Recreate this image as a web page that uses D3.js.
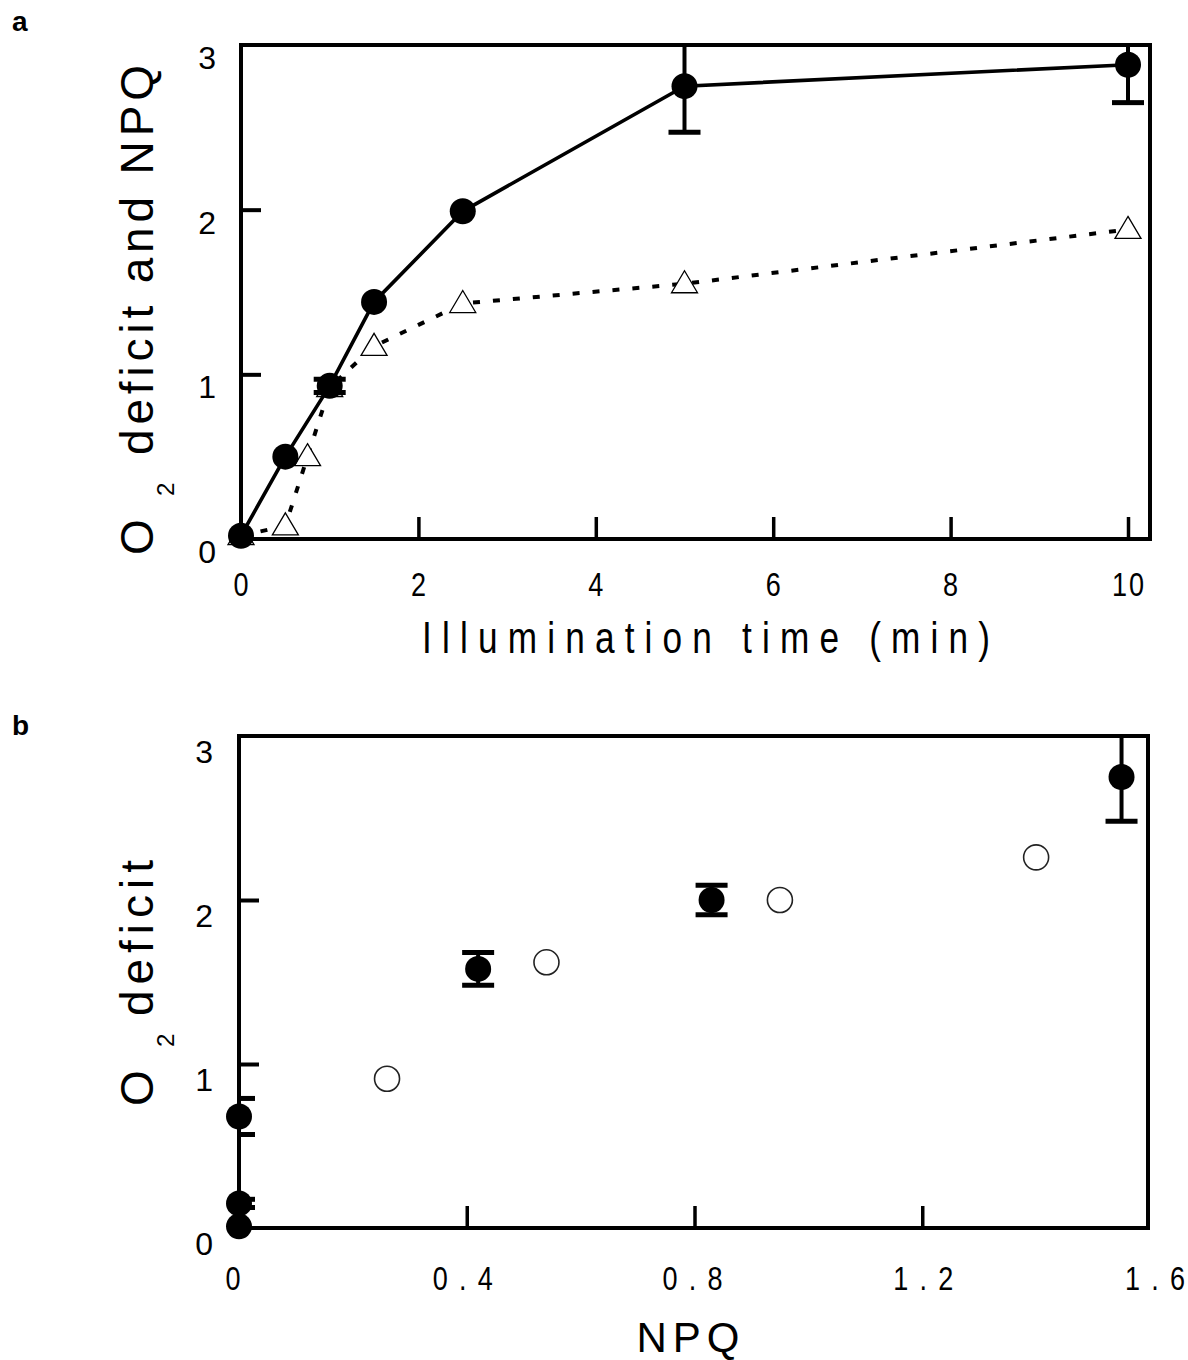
<!DOCTYPE html>
<html><head><meta charset="utf-8">
<script src="https://cdn.jsdelivr.net/npm/d3@7"></script>
<style>body{margin:0;background:#fff}</style>
</head><body>
<svg id="c" width="1188" height="1360" xmlns="http://www.w3.org/2000/svg"></svg>
<script>
// ---- Panel a data ----
const timeMin = [0, 0.5, 1, 1.5, 2.5, 5, 10];
const o2Deficit = [0.02, 0.50, 0.93, 1.44, 1.99, 2.75, 2.88];
const o2DeficitErr = [0, 0, 0.04, 0, 0, 0.28, 0.23];
const npqTime = [0, 0.5, 0.75, 1, 1.5, 2.5, 5, 10];
const npqValues = [0.02, 0.08, 0.50, 0.92, 1.17, 1.43, 1.55, 1.88];
const aXTicks = [0, 2, 4, 6, 8, 10];
const aYTicks = [0, 1, 2, 3];
// ---- Panel b data ----
const bFilledNPQ = [0, 0, 0, 0.42, 0.83, 1.55];
const bFilledO2 = [0.01, 0.15, 0.68, 1.58, 2.0, 2.75];
const bFilledErr = [0, 0.025, 0.11, 0.10, 0.09, 0.27];
const bOpenNPQ = [0.26, 0.54, 0.95, 1.40];
const bOpenO2 = [0.91, 1.62, 2.0, 2.26];
const bXTicks = [0, 0.4, 0.8, 1.2, 1.6];
const bXTickLabels = ["0", "0.4", "0.8", "1.2", "1.6"];
const bYTicks = [0, 1, 2, 3];

const svg = d3.select("#c");
const FONT = "'Liberation Sans', Arial, Helvetica, sans-serif";
const defs = svg.append("defs");

function condensed(g, txt, x, y, size, anchor, sx, len) {
  const t = g.append("text")
    .attr("transform", `translate(${x},${y}) scale(${sx},1)`)
    .attr("font-family", FONT).attr("font-size", size)
    .attr("text-anchor", anchor).text(txt);
  if (len) t.attr("textLength", len / sx).attr("lengthAdjust", "spacing");
  return t;
}

function yTitle(g, cx, parts) {
  parts.forEach(p => {
    const t = g.append("text")
      .attr("transform", `translate(${cx + (p.dx || 0)},${p.y0}) rotate(-90)`)
      .attr("font-family", FONT).attr("font-size", p.size)
      .attr("text-anchor", "start").text(p.t);
    if (p.len) t.attr("textLength", p.len).attr("lengthAdjust", "spacing");
  });
}

function panel(cfg) {
  const g = svg.append("g");
  const { x, y, frame } = cfg;
  defs.append("clipPath").attr("id", cfg.id)
    .append("rect").attr("x", frame.l).attr("y", frame.t - 2)
    .attr("width", frame.r - frame.l).attr("height", frame.b - frame.t + 2);
  g.append("g").attr("transform", `translate(0,${frame.b})`)
    .call(d3.axisBottom(x).tickValues(cfg.xTickMarks).tickSize(-22).tickFormat(""))
    .call(s => { s.select(".domain").remove(); s.selectAll("line").attr("stroke", "#000").attr("stroke-width", 3.5); });
  g.append("g").attr("transform", `translate(${frame.l},0)`)
    .call(d3.axisLeft(y).tickValues(cfg.yTickMarks).tickSize(-20).tickFormat(""))
    .call(s => { s.select(".domain").remove(); s.selectAll("line").attr("stroke", "#000").attr("stroke-width", 4); });
  g.append("rect").attr("x", frame.l).attr("y", frame.t)
    .attr("width", frame.r - frame.l).attr("height", frame.b - frame.t)
    .attr("fill", "none").attr("stroke", "#000").attr("stroke-width", 4);
  cfg.xLabels.forEach((lab, i) => {
    const len = lab.length > 1 ? (cfg.xLabelLen || 0) : 0;
    condensed(g, lab, x(cfg.xLabelVals[i]) + (cfg.xLabelShift ? cfg.xLabelShift[i] : 0), cfg.xLabelY, 33, "middle", 0.82, len || undefined);
  });
  cfg.yLabelVals.forEach(v => {
    g.append("text").attr("x", cfg.yLabelX).attr("y", y(v) + cfg.yLabelDy)
      .attr("font-family", FONT).attr("font-size", 32).attr("text-anchor", "end").text(String(v));
  });
  return g;
}

function errBars(g, xs, ys, es, x, y, clip) {
  const eg = g.append("g").attr("clip-path", `url(#${clip})`);
  xs.forEach((xv, i) => {
    if (!es[i]) return;
    const cx = x(xv), lo = y(ys[i] - es[i]), hi = y(ys[i] + es[i]);
    eg.append("line").attr("x1", cx).attr("x2", cx).attr("y1", lo).attr("y2", hi)
      .attr("stroke", "#000").attr("stroke-width", 4);
    [lo, hi].forEach(yy => eg.append("line").attr("x1", cx - 16).attr("x2", cx + 16)
      .attr("y1", yy).attr("y2", yy).attr("stroke", "#000").attr("stroke-width", 5));
  });
}

// ===== Panel a =====
const xa = d3.scaleLinear().domain([0, 10]).range([241, 1128]);
const ya = d3.scaleLinear().domain([0, 3]).range([539, 45]);
const ga = panel({
  id: "clipA", x: xa, y: ya, frame: { l: 241, r: 1150, t: 45, b: 539 },
  xTickMarks: [2, 4, 6, 8, 10], yTickMarks: [1, 2],
  xLabels: aXTicks.map(String), xLabelVals: aXTicks, xLabelY: 596, xLabelLen: 32,
  yLabelVals: aYTicks, yLabelX: 216, yLabelDy: 24
});
ga.append("path").datum(npqTime.map((t, i) => [t, npqValues[i]]))
  .attr("d", d3.line().x(d => xa(d[0])).y(d => ya(d[1])))
  .attr("fill", "none").attr("stroke", "#000").attr("stroke-width", 4)
  .attr("stroke-dasharray", "7 13");
const tri = "M0,-13 L13,9 L-13,9 Z";
ga.selectAll("path.tri").data(npqTime.map((t, i) => [t, npqValues[i]])).enter()
  .append("path").attr("class", "tri").attr("d", tri)
  .attr("transform", d => `translate(${xa(d[0])},${ya(d[1])})`)
  .attr("fill", "#fff").attr("stroke", "#000").attr("stroke-width", 1.3);
ga.append("path").datum(timeMin.map((t, i) => [t, o2Deficit[i]]))
  .attr("d", d3.line().x(d => xa(d[0])).y(d => ya(d[1])))
  .attr("fill", "none").attr("stroke", "#000").attr("stroke-width", 3.6);
errBars(ga, timeMin, o2Deficit, o2DeficitErr, xa, ya, "clipA");
ga.selectAll("circle.f").data(timeMin.map((t, i) => [t, o2Deficit[i]])).enter()
  .append("circle").attr("cx", d => xa(d[0])).attr("cy", d => ya(d[1])).attr("r", 13)
  .attr("fill", "#000");
condensed(ga, "Illumination time (min)", 706, 653, 44, "middle", 0.8, 568);
yTitle(ga, 153, [
  { t: "O", y0: 555, size: 46 },
  { t: "2", y0: 496, size: 24, dx: 21 },
  { t: "deficit and NPQ", y0: 455, size: 46, len: 390 }
]);
svg.append("text").attr("x", 12).attr("y", 31).attr("font-family", FONT)
  .attr("font-weight", "bold").attr("font-size", 28).text("a");

// ===== Panel b =====
const xb = d3.scaleLinear().domain([0, 1.6]).range([239, 1150]);
const yb = d3.scaleLinear().domain([0, 3]).range([1228, 736]);
const gb = panel({
  id: "clipB", x: xb, y: yb, frame: { l: 239, r: 1148, t: 736, b: 1228 },
  xTickMarks: [0.4, 0.8, 1.2], yTickMarks: [1, 2],
  xLabels: bXTickLabels, xLabelVals: bXTicks, xLabelY: 1290, xLabelShift: [-6, -4, -2, 1, 5], xLabelLen: 60,
  yLabelVals: bYTicks, yLabelX: 213, yLabelDy: 27
});
errBars(gb, bFilledNPQ, bFilledO2, bFilledErr, xb, yb, "clipB");
gb.selectAll("circle.o").data(bOpenNPQ.map((v, i) => [v, bOpenO2[i]])).enter()
  .append("circle").attr("cx", d => xb(d[0])).attr("cy", d => yb(d[1])).attr("r", 12.5)
  .attr("fill", "#fff").attr("stroke", "#222").attr("stroke-width", 1.6);
gb.selectAll("circle.f").data(bFilledNPQ.map((v, i) => [v, bFilledO2[i]])).enter()
  .append("circle").attr("cx", d => xb(d[0])).attr("cy", d => yb(d[1])).attr("r", 13)
  .attr("fill", "#000");
gb.append("text").attr("x", 691).attr("y", 1352).attr("font-family", FONT)
  .attr("font-size", 42).attr("text-anchor", "middle").attr("letter-spacing", 6).text("NPQ");
yTitle(gb, 153, [
  { t: "O", y0: 1106, size: 46 },
  { t: "2", y0: 1047, size: 24, dx: 21 },
  { t: "deficit", y0: 1016, size: 46, len: 156 }
]);
svg.append("text").attr("x", 12).attr("y", 735).attr("font-family", FONT)
  .attr("font-weight", "bold").attr("font-size", 28).text("b");
</script>
</body></html>
